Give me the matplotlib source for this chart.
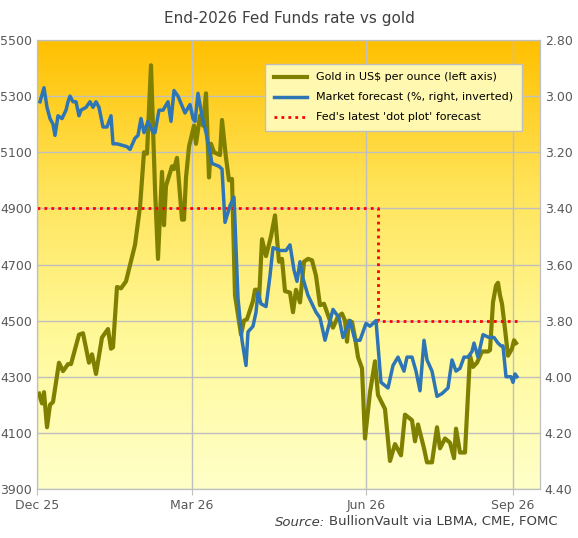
import matplotlib
matplotlib.use("Agg")
import matplotlib.pyplot as plt
import numpy as np
from matplotlib.colors import LinearSegmentedColormap

gold_x = [39,42,44,47,50,53,59,63,68,71,79,83,89,92,96,102,108,111,113,117,121,126,135,140,144,147,151,155,158,162,164,166,172,174,177,182,184,186,189,194,196,200,203,206,209,211,214,220,222,226,229,232,235,241,244,247,253,255,257,259,262,266,271,275,279,282,285,290,293,296,300,304,308,312,316,320,324,330,333,338,342,345,347,349,352,355,358,362,365,370,375,378,385,390,395,401,405,412,415,418,424,427,432,437,440,445,450,454,456,460,465,470,473,477,482,488,490,493,496,498,500,502,505,508,512,514,516]
gold = [4240,4205,4245,4120,4200,4210,4350,4320,4345,4345,4450,4455,4350,4380,4310,4440,4470,4400,4405,4620,4615,4640,4770,4905,5100,5095,5410,4970,4720,5030,4840,4980,5050,5040,5080,4860,4860,5010,5120,5195,5130,5230,5195,5310,5010,5130,5100,5090,5215,5080,5000,5005,4590,4450,4500,4505,4570,4610,4610,4570,4790,4730,4800,4875,4710,4720,4605,4600,4530,4610,4565,4710,4720,4715,4660,4555,4560,4500,4475,4515,4525,4500,4425,4500,4495,4440,4370,4330,4080,4245,4355,4235,4185,4000,4060,4020,4165,4145,4070,4130,4045,3995,3995,4120,4045,4080,4065,4010,4115,4030,4030,4375,4335,4350,4390,4390,4395,4565,4625,4635,4590,4560,4470,4375,4400,4430,4420]

rate_x = [40,44,47,50,53,55,58,62,66,68,70,73,76,79,81,86,90,93,96,99,103,107,111,113,117,127,130,135,138,141,144,148,153,155,159,163,168,171,174,178,185,190,193,195,198,202,206,212,219,222,225,230,234,238,242,246,248,253,256,258,261,266,270,273,280,286,290,294,297,300,303,308,312,316,320,325,333,339,343,350,355,360,366,370,376,381,388,393,398,404,407,412,416,420,424,427,432,437,442,448,452,456,460,464,468,472,474,478,483,489,494,498,501,503,506,511,513,515,517]
rate = [3.02,2.97,3.04,3.08,3.10,3.14,3.07,3.08,3.05,3.02,3.00,3.02,3.02,3.07,3.05,3.04,3.02,3.04,3.02,3.04,3.11,3.11,3.07,3.17,3.17,3.18,3.19,3.15,3.14,3.08,3.13,3.09,3.13,3.13,3.05,3.05,3.02,3.09,2.98,3.00,3.06,3.03,3.08,3.09,2.99,3.07,3.13,3.24,3.25,3.26,3.45,3.39,3.36,3.72,3.87,3.96,3.84,3.82,3.77,3.70,3.74,3.75,3.64,3.54,3.55,3.55,3.53,3.62,3.66,3.59,3.65,3.71,3.74,3.77,3.79,3.87,3.76,3.79,3.86,3.80,3.87,3.87,3.81,3.82,3.80,4.02,4.04,3.96,3.93,3.98,3.93,3.93,3.98,4.05,3.87,3.94,3.98,4.07,4.06,4.04,3.94,3.98,3.97,3.93,3.93,3.91,3.88,3.93,3.85,3.86,3.86,3.88,3.89,3.89,4.00,4.00,4.02,3.99,4.00]

dot_x = [37,378,378,519]
dot = [3.40,3.40,3.80,3.80]

tick_pos = [37,192,366,513]
tick_lab = ["Dec 25","Mar 26","Jun 26","Sep 26"]

fig = plt.figure(figsize=(5.78,5.38), dpi=100)
ax = fig.add_axes([37/578, 1-489/538, (540-37)/578, (489-40)/538])
cmap = LinearSegmentedColormap.from_list("g", ["#FFC000", "#FFE45A", "#FFF99A", "#FFFFC8"])
grad = np.linspace(0,1,256).reshape(-1,1)
ax.imshow(grad, cmap=cmap, aspect="auto", extent=[0,1,0,1], transform=ax.transAxes, zorder=0)

ax.set_xlim(37,540)
ax.set_ylim(3900,5500)
ax.set_yticks(range(3900,5501,200))
ax.set_xticks(tick_pos)
ax.set_xticklabels(tick_lab)
ax.grid(True, color="#BFBFBF", lw=1, zorder=1)
ax.set_axisbelow(False)
ax2 = ax.twinx()
ax2.set_ylim(4.40,2.80)
ax2.set_yticks(np.arange(2.80,4.41,0.2))
ax2.set_yticklabels([f"{v:.2f}" for v in np.arange(2.80,4.41,0.2)])

l1, = ax.plot(gold_x, gold, color="#808000", lw=3, zorder=3, label="Gold in US$ per ounce (left axis)")
l2, = ax2.plot(rate_x, rate, color="#2E75B6", lw=2.5, zorder=3, label="Market forecast (%, right, inverted)")
l3, = ax2.plot(dot_x, dot, color="#FF0000", lw=2, ls=(0,(1,1.5)), zorder=2, label="Fed's latest 'dot plot' forecast")

for a in (ax, ax2):
    a.tick_params(colors="#595959", labelsize=9, length=0)
    for s in a.spines.values():
        s.set_color("#BFBFBF")
ax.tick_params(axis="x", length=4, color="#BFBFBF")

leg = ax2.legend(handles=[l1,l2,l3], loc="upper right", bbox_to_anchor=(0.975,0.96), fontsize=8,
                 frameon=True, fancybox=False, edgecolor="#BFBFBF", facecolor="#FFF8B0", framealpha=1,
                 handlelength=3.0, labelspacing=0.9, borderpad=0.8)
leg.get_frame().set_linewidth(1)

fig.text(0.5, 1-18/538, "End-2026 Fed Funds rate vs gold", ha="center", va="center", fontsize=11, color="#404040")
fig.text(0.965, 1-522/538, "BullionVault via LBMA, CME, FOMC", ha="right", va="center", fontsize=9.5, color="#404040")
t = fig.text(0.5, 1-522/538, "Source:", ha="right", va="center", fontsize=9.5, style="italic", color="#404040")
fig.canvas.draw()
bb = fig.texts[1].get_window_extent()
t.set_position(((bb.x0-4)/fig.bbox.width, 1-522/538))
fig.savefig("out.png", dpi=100)
